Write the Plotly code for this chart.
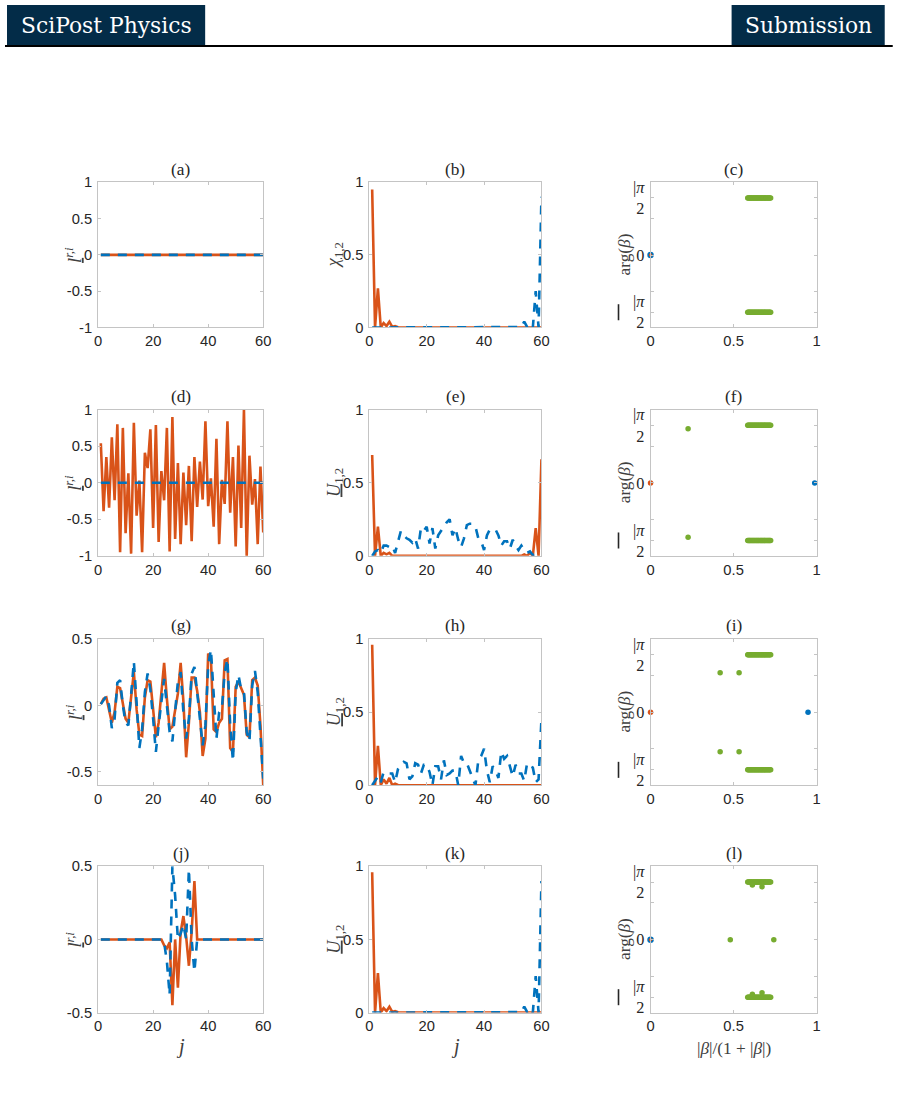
import math
import plotly.graph_objects as go
from plotly.subplots import make_subplots

# The photographed page shows the figure slightly scaled and offset; these
# constants map the reference's window pixels onto figure pixels.
SX, OX = 0.986, 4.0
SY, OY = 0.984, 8.0
W, H = 910, 1106
FSCALE = 0.985


def px(x):
    return ((x - OX) / SX) / W


def py(y):
    return 1 - ((y - OY) / SY) / H


def fs(s):
    return s / FSCALE


ORANGE = "#D95319"
BLUE = "#0072BD"
GREEN = "#77AC30"
NAVY = "#032c48"
HALF_PI = math.pi / 2

# ---------------- data ----------------
j = list(range(1, 61))

# (a)
a_orange = [0.0] * 60
a_blue = [0.0] * 60

# (b)
b_orange = [0.95, 0.0, 0.27, 0.0, 0.03, 0.01, 0.04, 0.005, 0.01, 0.002] + [0.0] * 50
b_blue = [0.0] * 50 + [0.0, 0.0, 0.003, 0.04, 0.004, 0.03, 0.0, 0.25, 0.0, 0.90]

# (d)
d_orange = [0.54, -0.39, 0.35, -0.34, 0.62, -0.24, 0.80, -0.95, 0.75, -0.69,
            0.13, -0.97, 0.82, -0.45, 0.03, -0.95, 0.41, 0.20, 0.73, -0.62,
            0.79, -0.81, 0.16, -0.24, 0.75, -0.94, 0.90, -0.77, 0.27, -0.84,
            0.14, -0.58, 0.23, -0.80, 0.35, -0.33, 0.29, -0.23, 0.84, -0.32,
            0.06, -0.60, 0.60, -0.84, 0.04, -0.29, 0.84, -0.41, 0.35, -0.87,
            0.51, -0.62, 1.00, -1.00, 0.37, -0.30, 0.05, -0.84, 0.22, -0.68]
d_blue = [0.0] * 60

# (e)
e_orange = [0.69, 0.0, 0.20, 0.0, 0.02, 0.01, 0.02, 0.0] + [0.0] * 44 + \
           [0.0, 0.01, 0.0, 0.02, 0.0, 0.19, 0.0, 0.66]
e_blue = [0.0, 0.03, 0.04, 0.02, 0.07, 0.07, 0.06, 0.07, 0.02, 0.10,
          0.17, 0.14, 0.12, 0.11, 0.09, 0.12, 0.05, 0.19, 0.17, 0.20,
          0.085, 0.19, 0.05, 0.14, 0.17, 0.20, 0.23, 0.25, 0.14, 0.19,
          0.11, 0.06, 0.12, 0.21, 0.22, 0.22, 0.20, 0.12, 0.10, 0.04,
          0.14, 0.18, 0.18, 0.18, 0.14, 0.07, 0.10, 0.10, 0.05, 0.11,
          0.07, 0.04, 0.07, 0.04, 0.02, 0.03, 0.005, 0.015, 0.015, 0.005]

# (g)
g_orange = [0.01, 0.05, 0.06, -0.03, -0.13, -0.05, 0.14, 0.13, 0.00, -0.10,
            -0.13, 0.05, 0.25, -0.03, -0.22, -0.23, 0.06, 0.19, 0.18, -0.03,
            -0.24, -0.13, 0.08, 0.32, 0.05, -0.18, -0.16, -0.03, 0.09, 0.32,
            0.03, -0.39, -0.13, 0.21, 0.21, 0.11, -0.05, -0.38, -0.25, 0.39,
            0.35, -0.18, -0.20, -0.13, -0.10, 0.34, 0.35, -0.32, -0.35, 0.14,
            0.18, 0.13, 0.08, -0.22, -0.24, 0.19, 0.21, 0.15, -0.15, -0.60]
g_blue = [0.01, 0.04, 0.07, 0.00, -0.17, -0.10, 0.17, 0.19, 0.00, -0.13,
          -0.15, 0.08, 0.33, 0.02, -0.32, -0.18, 0.10, 0.24, 0.12, -0.10,
          -0.35, -0.15, 0.05, 0.20, 0.00, -0.20, -0.27, -0.05, 0.18, 0.25,
          -0.05, -0.25, -0.10, 0.24, 0.29, 0.10, -0.12, -0.30, -0.15, 0.30,
          0.42, 0.05, -0.25, -0.05, -0.02, 0.25, 0.35, -0.15, -0.42, 0.10,
          0.23, 0.12, 0.10, -0.20, -0.27, 0.15, 0.26, 0.10, -0.20, -0.55]

# (h)
h_orange = [0.96, 0.0, 0.27, 0.0, 0.04, 0.01, 0.05, 0.0, 0.01, 0.002] + [0.0] * 50
h_blue = [0.0, 0.03, 0.06, 0.02, 0.09, 0.09, 0.08, 0.08, 0.02, 0.11,
          0.14, 0.16, 0.15, 0.04, 0.06, 0.15, 0.14, 0.08, 0.14, 0.14,
          0.09, 0.0, 0.13, 0.13, 0.04, 0.17, 0.07, 0.08, 0.10, 0.10,
          0.0, 0.20, 0.15, 0.15, 0.10, 0.05, 0.0, 0.17, 0.20, 0.25,
          0.10, 0.02, 0.13, 0.10, 0.05, 0.23, 0.18, 0.20, 0.12, 0.06,
          0.14, 0.08, 0.08, 0.03, 0.15, 0.13, 0.12, 0.02, 0.04, 0.45]

# (j)
jj_orange = [0.0] * 23 + [-0.04, -0.06, -0.02, -0.45, 0.0, -0.33, 0.05, 0.16, 0.02,
                          -0.18, 0.05, 0.40, 0.0] + [0.0] * 24
jj_blue = [0.0] * 23 + [-0.02, -0.15, -0.38, 0.50, 0.30, 0.0, 0.04, 0.10, 0.0,
                        0.48, 0.0, -0.22, 0.0] + [0.0] * 24

# (k)
k_orange = [0.96, 0.0, 0.27, 0.0, 0.03, 0.01, 0.04, 0.005, 0.01, 0.002] + [0.0] * 50
k_blue = [0.0] * 50 + [0.0, 0.0, 0.003, 0.04, 0.004, 0.03, 0.0, 0.25, 0.0, 0.90]

# scatter panels: |beta|/(1+|beta|) and arg(beta)
cluster_x = [0.585, 0.589, 0.594, 0.598, 0.603, 0.608, 0.612, 0.617, 0.622, 0.627,
             0.631, 0.636, 0.641, 0.646, 0.650, 0.655, 0.660, 0.665, 0.669, 0.674,
             0.679, 0.684, 0.688, 0.693, 0.698, 0.703, 0.708, 0.713, 0.718, 0.723]
cluster_up = [HALF_PI] * len(cluster_x)
cluster_dn = [-HALF_PI] * len(cluster_x)

c_orange_x, c_orange_y = [0.0], [0.0]
c_blue_x, c_blue_y = [0.0], [0.0]
c_green_x, c_green_y = [], []

f_orange_x, f_orange_y = [0.0], [0.0]
f_blue_x, f_blue_y = [0.988], [0.0]
f_green_x, f_green_y = [0.226, 0.226], [1.48, -1.48]

i_orange_x, i_orange_y = [0.0], [0.0]
i_blue_x, i_blue_y = [0.948], [0.0]
i_green_x, i_green_y = [0.419, 0.533, 0.419, 0.533], [1.08, 1.08, -1.08, -1.08]

l_orange_x, l_orange_y = [0.0], [0.0]
l_blue_x, l_blue_y = [0.0], [0.0]
l_green_x = [0.48, 0.742, 0.613, 0.671, 0.613, 0.671]
l_green_y = [0.0, 0.0, 1.49, 1.44, -1.49, -1.45]

line_panels = {
    (1, 1): (a_orange, a_blue), (1, 2): (b_orange, b_blue),
    (2, 1): (d_orange, d_blue), (2, 2): (e_orange, e_blue),
    (3, 1): (g_orange, g_blue), (3, 2): (h_orange, h_blue),
    (4, 1): (jj_orange, jj_blue), (4, 2): (k_orange, k_blue),
}
scatter_panels = {
    1: (c_orange_x, c_orange_y, c_blue_x, c_blue_y, c_green_x, c_green_y, True),
    2: (f_orange_x, f_orange_y, f_blue_x, f_blue_y, f_green_x, f_green_y, False),
    3: (i_orange_x, i_orange_y, i_blue_x, i_blue_y, i_green_x, i_green_y, False),
    4: (l_orange_x, l_orange_y, l_blue_x, l_blue_y, l_green_x, l_green_y, True),
}

panel_letters = ["a", "b", "c", "d", "e", "f", "g", "h", "i", "j", "k", "l"]
col1_ranges = {1: [-1, 1], 2: [-1, 1], 3: [-0.6, 0.5], 4: [-0.5, 0.5]}
col1_ticks = {1: [-1, -0.5, 0, 0.5, 1], 2: [-1, -0.5, 0, 0.5, 1],
              3: [-0.5, 0, 0.5], 4: [-0.5, 0, 0.5]}
arg_range = [-1.99, 2.0]

# ---------------- layout geometry (reference window pixels) ----------------
col_px = [(98, 263), (369, 541), (650, 816)]
row_px = [(182, 327), (409, 555), (638, 784), (865, 1011)]

fig = make_subplots(rows=4, cols=3)

SANS = "Liberation Sans, Arial, sans-serif"
SERIF = "Liberation Serif, DejaVu Serif, serif"
HEADSERIF = "DejaVu Serif, serif"
FRAME = "#c4c4c4"
TXT = "#262626"
LAB = "#404040"

for (r, c), (yo, yb) in line_panels.items():
    fig.add_trace(go.Scatter(x=j, y=yo, mode="lines", line=dict(color=ORANGE, width=2.6),
                             showlegend=False), row=r, col=c)
    fig.add_trace(go.Scatter(x=j, y=yb, mode="lines",
                             line=dict(color=BLUE, width=2.6, dash="9px,8px"),
                             showlegend=False), row=r, col=c)

for r, (ox, oy, bx, by, gx, gy, blue_under) in scatter_panels.items():
    fig.add_hline(y=HALF_PI, row=r, col=3, layer="below",
                  line=dict(color="#a8a8a8", width=0.8, dash="3px,2px"))
    fig.add_hline(y=-HALF_PI, row=r, col=3, layer="below",
                  line=dict(color="#a8a8a8", width=0.8, dash="3px,2px"))
    fig.add_trace(go.Scatter(x=cluster_x + cluster_x, y=cluster_up + cluster_dn, mode="markers",
                             marker=dict(color=GREEN, size=5.5), cliponaxis=False,
                             showlegend=False), row=r, col=3)
    if gx:
        fig.add_trace(go.Scatter(x=gx, y=gy, mode="markers", marker=dict(color=GREEN, size=5.5),
                                 cliponaxis=False, showlegend=False), row=r, col=3)
    if blue_under:
        fig.add_trace(go.Scatter(x=bx, y=by, mode="markers", marker=dict(color=BLUE, size=6.5),
                                 cliponaxis=False, showlegend=False), row=r, col=3)
        fig.add_trace(go.Scatter(x=ox, y=oy, mode="markers", marker=dict(color=ORANGE, size=3.5),
                                 cliponaxis=False, showlegend=False), row=r, col=3)
    else:
        fig.add_trace(go.Scatter(x=ox, y=oy, mode="markers", marker=dict(color=ORANGE, size=5.5),
                                 cliponaxis=False, showlegend=False), row=r, col=3)
        fig.add_trace(go.Scatter(x=bx, y=by, mode="markers", marker=dict(color=BLUE, size=5.5),
                                 cliponaxis=False, showlegend=False), row=r, col=3)

common = dict(showgrid=False, zeroline=False, showline=True, linecolor=FRAME, linewidth=1,
              mirror="ticks", ticks="inside", ticklen=3, tickcolor=FRAME, tickwidth=0.8,
              tickfont=dict(family=SANS, size=fs(14.5), color=TXT))

annotations = []
shapes = []


def ann(text, x, y, size, color=LAB, family=SERIF, angle=0):
    annotations.append(dict(text=text, x=px(x), y=py(y), xref="paper", yref="paper",
                            showarrow=False, textangle=angle, xanchor="center",
                            yanchor="middle", font=dict(family=family, size=fs(size), color=color)))


for r in range(1, 5):
    for c in range(1, 4):
        n = (r - 1) * 3 + c
        xname = "xaxis" if n == 1 else f"xaxis{n}"
        yname = "yaxis" if n == 1 else f"yaxis{n}"
        x0, x1 = col_px[c - 1]
        y0, y1 = row_px[r - 1]
        xa = dict(common, domain=[px(x0), px(x1)])
        ya = dict(common, domain=[py(y1), py(y0)], ticklabelstandoff=2)
        if c < 3:
            xa.update(range=[0, 60], tickvals=[0, 20, 40, 60], ticktext=["0", "20", "40", "60"])
        else:
            xa.update(range=[0, 1], tickvals=[0, 0.5, 1], ticktext=["0", "0.5", "1"])
        if c == 1:
            tv = col1_ticks[r]
            ya.update(range=col1_ranges[r], tickvals=tv,
                      ticktext=[("%g" % v) for v in tv])
        elif c == 2:
            ya.update(range=[0, 1], tickvals=[0, 0.5, 1], ticktext=["0", "0.5", "1"])
        else:
            ya.update(range=arg_range, tickvals=[-HALF_PI, 0, HALF_PI],
                      ticktext=["|<i>π</i><br>2", "0", "|<i>π</i><br>2"],
                      tickfont=dict(family=SERIF, size=fs(16), color=TXT),
                      minor=dict(tickmode="array", tickvals=[-1, 1], ticks="inside",
                                 ticklen=3, tickcolor=FRAME))
            # the rotated minus sign of the -pi/2 tick label: a thin vertical bar
            frac = (arg_range[1] + HALF_PI) / (arg_range[1] - arg_range[0])
            ytick = y0 + frac * (y1 - y0)
            shapes.append(dict(type="rect", xref="paper", yref="paper",
                               x0=px(617.2), x1=px(618.8), y0=py(ytick + 8), y1=py(ytick - 8),
                               fillcolor=TXT, line=dict(width=0)))
        fig.layout[xname].update(xa)
        fig.layout[yname].update(ya)

        # panel title
        ann(f"({panel_letters[n - 1]})", (x0 + x1) / 2, y0 - 13, 17, color=TXT)
        # y-axis labels
        ymid = (y0 + y1) / 2
        if c == 1:
            ann("<u><i>l</i></u><sup><i>r,i</i></sup>", 74, ymid, 18, angle=-90)
        elif c == 2:
            sym = "χ" if r == 1 else "U"
            ann(f"<u><i>{sym}</i></u><sub>1,2</sub>", 335, ymid, 18, angle=-90)
        else:
            ann("arg(<i>β</i>)", 624, ymid, 17, angle=-90)

# x-axis labels
ann("<i>j</i>", 180, 1045, 20)
ann("<i>j</i>", 455, 1045, 20)
ann("|<i>β</i>|/(1 + |<i>β</i>|)", 733, 1047, 17)

# header
shapes += [
    dict(type="rect", xref="paper", yref="paper", x0=px(7), x1=px(205), y0=py(45), y1=py(5),
         fillcolor=NAVY, line=dict(width=0)),
    dict(type="rect", xref="paper", yref="paper", x0=px(731), x1=px(884), y0=py(45), y1=py(5),
         fillcolor=NAVY, line=dict(width=0)),
    dict(type="line", xref="paper", yref="paper", x0=px(5), x1=px(892), y0=py(46), y1=py(46),
         line=dict(color="black", width=2)),
]
ann("SciPost Physics", 106, 25, 21.5, color="white", family=HEADSERIF)
ann("Submission", 807.5, 25, 21.5, color="white", family=HEADSERIF)

fig.update_layout(width=W, height=H, margin=dict(l=0, r=0, t=0, b=0),
                  paper_bgcolor="white", plot_bgcolor="white", showlegend=False,
                  annotations=list(fig.layout.annotations) + annotations,
                  shapes=list(fig.layout.shapes) + shapes)

fig.write_html("out.html")
